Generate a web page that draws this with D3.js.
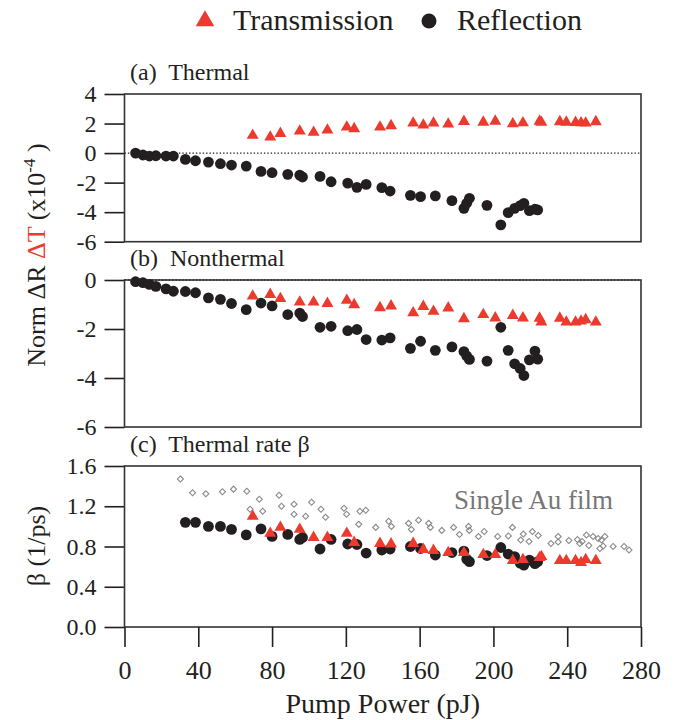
<!DOCTYPE html>
<html>
<head>
<meta charset="utf-8" />
<title>Thermal / Nonthermal response vs pump power</title>
<script src="https://d3js.org/d3.v7.min.js"></script>
<style>
body { margin: 0; padding: 0; background: #fff; }
svg text { font-family: "Liberation Serif", "Times New Roman", Times, "DejaVu Serif", serif; }
.tick line { stroke: #231f20; stroke-width: 1.6; }
.tick text { fill: #231f20; }
</style>
</head>
<body>
<div id="chart"></div>
<script>

// pump power values (pJ), shared between panels
var refX = [6, 10, 13.5, 17, 22.5, 26.5, 33, 38.5, 45.5, 52, 58, 66, 74, 80, 88.5, 95, 96.5, 106, 112, 121,
            126, 131, 139.5, 144, 155, 160.5, 168.5, 177.5, 184, 185.5, 187, 196.5, 204, 208, 211.5, 214.5, 216.5, 219.5, 222.5, 224];
var transX = [69.5, 79, 84.5, 95, 102.5, 110, 120.5, 124.5, 138.5, 144.5, 156.5, 162, 167.5, 175.5, 184, 194.5,
              201, 210.5, 216, 225, 226, 236, 239.5, 244.5, 247.5, 250, 255.5];

// (a) thermal
var thermalRefl = [0, -0.13, -0.2, -0.18, -0.2, -0.2, -0.43, -0.52, -0.61, -0.72, -0.81, -0.88, -1.24, -1.33, -1.44, -1.49, -1.62, -1.58, -1.94, -2.03,
                   -2.32, -2.12, -2.34, -2.57, -2.86, -2.95, -2.9, -3.22, -3.74, -3.4, -3.06, -3.54, -4.86, -4.03, -3.74, -3.56, -3.4, -3.9, -3.8, -3.85];
var thermalTrans = [1.2, 1.08, 1.33, 1.49, 1.4, 1.56, 1.76, 1.65, 1.76, 1.85, 2.03, 1.89, 2.03, 1.96, 2.14, 2.09,
                    2.16, 1.98, 2.05, 2.16, 2.08, 2.12, 2.09, 2.07, 2.05, 2.03, 2.12];

// (b) nonthermal
var nonthermalRefl = [-0.07, -0.11, -0.18, -0.26, -0.36, -0.46, -0.47, -0.52, -0.73, -0.79, -0.96, -1.21, -0.94, -1.06, -1.41, -1.35, -1.49, -1.93, -1.89, -2.07,
                      -2.02, -2.43, -2.45, -2.36, -2.79, -2.5, -2.87, -2.73, -2.92, -3.1, -3.24, -3.31, -1.93, -2.87, -3.42, -3.61, -3.9, -3.26, -2.9, -3.23];
var nonthermalTrans = [-0.66, -0.59, -0.76, -0.9, -0.9, -0.96, -0.83, -1.01, -1.13, -1.06, -1.34, -1.08, -1.28, -1.14, -1.58, -1.41,
                       -1.55, -1.45, -1.55, -1.56, -1.72, -1.56, -1.72, -1.72, -1.68, -1.62, -1.72];

// (c) thermal rate beta (1/ps)
var betaRefl = [null, null, null, null, null, null, 1.04, 1.04, 1.0, 1.0, 0.97, 0.915, 0.975, 0.9, 0.92, 0.87, 0.89, 0.775, 0.87, 0.825,
                0.82, 0.735, 0.765, 0.775, 0.8, 0.78, 0.715, 0.74, 0.755, 0.675, 0.65, 0.71, 0.79, 0.725, 0.7, 0.635, 0.615, 0.665, 0.63, 0.65];
var betaTrans = [1.1, 0.93, 0.99, 0.97, 0.89, 0.89, 0.93, 0.84, 0.83, 0.825, 0.83, 0.77, 0.76, 0.74, 0.74, 0.72,
                 0.72, 0.66, 0.67, 0.69, 0.7, 0.66, 0.66, 0.66, 0.64, 0.67, 0.66];
var auFilmX = [30.3, 36.9, 44.1, 53.1, 59.1, 66.3, 68.1, 73.1, 74.9, 83.8, 85.1, 91.9, 91.9, 98.2, 101.4, 106.5, 109, 119, 120.4, 127.6,
               130.8, 127, 136.2, 143.2, 144.7, 154, 155.5, 159.4, 164.9, 165.8, 172, 178.4, 181.6, 186.5, 186.9, 191.9, 195, 202.3, 208.1, 210.3,
               214.8, 216.2, 219.3, 221.1, 224.3, 231.2, 235.1, 235.1, 240.9, 245.5, 246.8, 248.1, 250.4, 251.7, 254, 256.8, 257.7, 258.6, 259.5, 260.4,
               264.9, 270.8, 273.5];
var auFilmBeta = [1.47, 1.335, 1.325, 1.345, 1.37, 1.35, 1.17, 1.27, 1.15, 1.31, 1.2, 1.22, 1.12, 1.1, 1.24, 1.17, 1.09, 1.18, 1.12, 1.15,
                  1.16, 1.02, 0.99, 1.05, 1.0, 1.03, 0.97, 1.06, 1.03, 0.99, 0.96, 0.99, 0.92, 1.0, 0.96, 0.9, 0.95, 0.9, 0.905, 0.99,
                  0.865, 0.925, 0.85, 0.95, 0.91, 0.83, 0.9, 0.845, 0.86, 0.87, 0.83, 0.85, 0.915, 0.81, 0.9, 0.88, 0.78, 0.865, 0.805, 0.9,
                  0.8, 0.8, 0.765];

var xTicks = [0, 40, 80, 120, 160, 200, 240, 280];
var aTicks = [4, 2, 0, -2, -4, -6];
var bTicks = [0, -2, -4, -6];
var cTicks = [0, 0.4, 0.8, 1.2, 1.6];

var W = 677, H = 720;
var RED = "#ec3a2f", DARK = "#231f20";
var FONT = "'Liberation Serif', 'Times New Roman', Times, serif";

var svg = d3.select("#chart").append("svg")
  .attr("width", W)
  .attr("height", H)
  .attr("font-family", FONT);

var x = d3.scaleLinear().domain([0, 280]).range([124.5, 641]);

var panels = [
  { label: "(a)  Thermal", domain: [-6, 4], range: [241.7, 94], ticks: aTicks, fmt: d3.format("d"),
    refl: thermalRefl, trans: thermalTrans, zero: true },
  { label: "(b)  Nonthermal", domain: [-6, 0], range: [427, 280], ticks: bTicks, fmt: d3.format("d"),
    refl: nonthermalRefl, trans: nonthermalTrans, zero: true },
  { label: "(c)  Thermal rate \u03b2", domain: [0, 1.6], range: [627, 466], ticks: cTicks, fmt: d3.format(".1f"),
    refl: betaRefl, trans: betaTrans, zero: false, au: true }
];

var tri = d3.symbol().type(d3.symbolTriangle).size(62);
var diamond = d3.symbol().type(d3.symbolSquare).size(18);

panels.forEach(function(p, i) {
  var y = d3.scaleLinear().domain(p.domain).range(p.range);
  var g = svg.append("g");

  // y axis
  var ax = g.append("g")
    .attr("transform", "translate(" + x.range()[0] + ",0)")
    .call(d3.axisLeft(y).tickValues(p.ticks).tickFormat(function(d) { return p.fmt(d).replace("\u2212", "-"); })
      .tickSize(20).tickSizeOuter(0).tickPadding(8));
  ax.attr("font-family", FONT).attr("font-size", 24);
  ax.select(".domain").remove();

  if (p.zero) {
    g.append("line")
      .attr("x1", x.range()[0]).attr("x2", x.range()[1])
      .attr("y1", y(0)).attr("y2", y(0))
      .attr("stroke", DARK).attr("stroke-width", 1.4)
      .attr("stroke-dasharray", "1.4,2");
  }

  // frame
  g.append("rect")
    .attr("x", x.range()[0]).attr("y", p.range[1])
    .attr("width", x.range()[1] - x.range()[0])
    .attr("height", p.range[0] - p.range[1])
    .attr("fill", "none").attr("stroke", "#333").attr("stroke-width", 1.6);

  g.append("text")
    .attr("x", 130).attr("y", p.range[1] - 14)
    .attr("font-size", "24px").attr("fill", DARK)
    .style("white-space", "pre")
    .text(p.label);

  if (p.au) {
    g.selectAll("path.au")
      .data(auFilmX.map(function(d, j) { return [d, auFilmBeta[j]]; }))
      .enter().append("path")
      .attr("class", "au")
      .attr("d", diamond)
      .attr("transform", function(d) { return "translate(" + x(d[0]) + "," + y(d[1]) + ") rotate(45)"; })
      .attr("fill", "none").attr("stroke", "#8a8a8a").attr("stroke-width", 1.1);

    g.append("text")
      .attr("x", 454).attr("y", 509)
      .attr("font-size", "27px").attr("fill", "#777")
      .text("Single Au film");
  }

  g.selectAll("circle.refl")
    .data(refX.map(function(d, j) { return [d, p.refl[j]]; }).filter(function(d) { return d[1] != null; }))
    .enter().append("circle")
    .attr("class", "refl")
    .attr("cx", function(d) { return x(d[0]); })
    .attr("cy", function(d) { return y(d[1]); })
    .attr("r", 5.4)
    .attr("fill", DARK);

  g.selectAll("path.trans")
    .data(transX.map(function(d, j) { return [d, p.trans[j]]; }))
    .enter().append("path")
    .attr("class", "trans")
    .attr("d", tri)
    .attr("transform", function(d) { return "translate(" + x(d[0]) + "," + y(d[1]) + ")"; })
    .attr("fill", RED);

  if (i == 2) {
    var xa = g.append("g")
      .attr("transform", "translate(0," + p.range[0] + ")")
      .call(d3.axisBottom(x).tickValues(xTicks).tickSize(20).tickSizeOuter(0).tickPadding(14));
    xa.attr("font-family", FONT).attr("font-size", 26);
    xa.select(".domain").remove();
  }
});

// x axis title
svg.append("text")
  .attr("x", (x.range()[0] + x.range()[1]) / 2)
  .attr("y", 713)
  .attr("text-anchor", "middle")
  .attr("font-size", "28px").attr("fill", DARK)
  .text("Pump Power (pJ)");

// y axis titles
var yt = svg.append("text")
  .attr("transform", "translate(45,255) rotate(-90)")
  .attr("text-anchor", "middle")
  .attr("font-size", "26px").attr("fill", DARK);
yt.append("tspan").text("Norm \u0394R ");
yt.append("tspan").attr("fill", RED).text("\u0394T");
yt.append("tspan").text(" (x10");
yt.append("tspan").attr("dy", -10).attr("font-size", "17px").text("-4");
yt.append("tspan").attr("dy", 10).text(" )");

svg.append("text")
  .attr("transform", "translate(45,546) rotate(-90)")
  .attr("text-anchor", "middle")
  .attr("font-size", "26px").attr("fill", DARK)
  .text("\u03b2 (1/ps)");

// legend
var legend = svg.append("g");
legend.append("path")
  .attr("d", d3.symbol().type(d3.symbolTriangle).size(150))
  .attr("transform", "translate(205,21)")
  .attr("fill", RED);
legend.append("text")
  .attr("x", 233).attr("y", 30)
  .attr("font-size", "30px").attr("fill", DARK)
  .text("Transmission");
legend.append("circle")
  .attr("cx", 429).attr("cy", 21).attr("r", 7.5)
  .attr("fill", DARK);
legend.append("text")
  .attr("x", 457).attr("y", 30)
  .attr("font-size", "30px").attr("fill", DARK)
  .text("Reflection");

</script>
</body>
</html>
